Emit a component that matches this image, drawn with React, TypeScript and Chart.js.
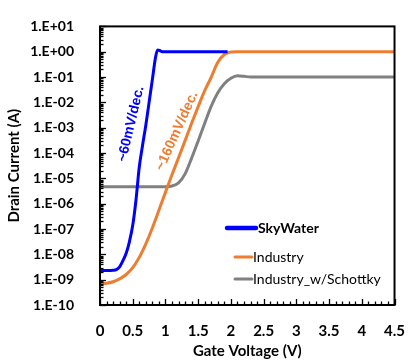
import React, { useEffect, useRef } from "react";
import { Chart, registerables } from "chart.js";

Chart.register(...registerables);

// Transfer curves: gate voltage (V) vs drain current (A)
const skyWaterVg = [0, 0.1, 0.2, 0.25, 0.3, 0.35, 0.4, 0.45, 0.5, 0.55, 0.6, 0.65, 0.7, 0.75, 0.8, 0.85, 0.88, 0.91, 0.95, 1.0, 1.5, 1.95];
const skyWaterId = [2.3e-9, 2.3e-9, 2.35e-9, 2.5e-9, 3.2e-9, 5.6e-9, 1.1e-8, 3.2e-8, 1.4e-7, 1.4e-6, 2.8e-5, 2.0e-4, 1.26e-3, 1.0e-2, 7.9e-2, 0.63, 1.17, 1.12, 1.0, 1.0, 1.0, 1.0];

const industryVg = [0, 0.1, 0.2, 0.3, 0.4, 0.5, 0.6, 0.7, 0.8, 0.9, 1.0, 1.1, 1.2, 1.3, 1.4, 1.5, 1.6, 1.7, 1.8, 1.9, 2.0, 2.1, 4.5];
const industryId = [6.9e-10, 7.2e-10, 8.3e-10, 1.07e-9, 1.6e-9, 3.0e-9, 7.6e-9, 2.6e-8, 1.1e-7, 5.5e-7, 2.8e-6, 1.4e-5, 6.5e-5, 3.1e-4, 1.5e-3, 6.8e-3, 2.9e-2, 0.1, 0.38, 0.78, 0.98, 1.0, 1.0];

const schottkyVg = [0, 0.5, 1.0, 1.1, 1.2, 1.3, 1.4, 1.5, 1.6, 1.7, 1.8, 1.9, 2.0, 2.1, 2.2, 2.3, 4.5];
const schottkyId = [4.7e-6, 4.7e-6, 4.7e-6, 5.0e-6, 6.6e-6, 1.5e-5, 6.3e-5, 3.0e-4, 1.5e-3, 7.1e-3, 2.4e-2, 5.4e-2, 8.9e-2, 0.112, 0.107, 0.1, 0.1];

const xTickLabels = ["0", "0.5", "1", "1.5", "2", "2.5", "3", "3.5", "4", "4.5"];
const yTickValues = [1e-10, 1e-9, 1e-8, 1e-7, 1e-6, 1e-5, 1e-4, 1e-3, 1e-2, 1e-1, 1, 10];
const yTickLabels = ["1.E-10", "1.E-09", "1.E-08", "1.E-07", "1.E-06", "1.E-05", "1.E-04", "1.E-03", "1.E-02", "1.E-01", "1.E+00", "1.E+01"];

const seriesNames = ["SkyWater", "Industry", "Industry_w/Schottky"];
const seriesColors = ["#0000FF", "#ED7D31", "#808080"];
const slopeNotes = ["~60mV/dec.", "~160mV/dec."];

const toPoints = (xs: number[], ys: number[]) => xs.map((x, i) => ({ x, y: ys[i] }));

// Boxed frame with inward major/minor ticks, slope notes and a hand-placed legend
const framePlugin = {
  id: "frameDecor",
  afterDatasetsDraw(chart: any) {
    const { ctx, chartArea: a, scales } = chart;
    const xs = scales.x;
    const ys = scales.y;
    ctx.save();
    ctx.strokeStyle = "#000";
    ctx.lineWidth = 1.3;
    // y ticks (decades + 2..9 minors)
    for (let d = -10; d <= 1; d++) {
      for (let k = 1; k <= 9; k++) {
        const v = k * Math.pow(10, d);
        if (v > 10.0001) break;
        const py = Math.round(ys.getPixelForValue(v)) + 0.5;
        const len = k === 1 ? 6 : 3.5;
        ctx.beginPath();
        ctx.moveTo(a.left, py);
        ctx.lineTo(a.left + len, py);
        ctx.stroke();
      }
    }
    // x ticks every 0.1 V
    for (let i = 0; i <= 45; i++) {
      const px = Math.round(xs.getPixelForValue(i / 10)) + 0.5;
      const len = i % 5 === 0 ? 6 : 3.5;
      ctx.beginPath();
      ctx.moveTo(px, a.bottom);
      ctx.lineTo(px, a.bottom - len);
      ctx.stroke();
    }
    ctx.lineWidth = 2;
    ctx.strokeRect(a.left, a.top, a.right - a.left, a.bottom - a.top);

    // slope annotations
    ctx.font = "bold 14px 'Liberation Sans', Arial, sans-serif";
    ctx.textAlign = "center";
    ctx.textBaseline = "middle";
    const notes = [
      { text: slopeNotes[0], color: seriesColors[0], x: 131, y: 124, angle: -76.8 },
      { text: slopeNotes[1], color: seriesColors[1], x: 177, y: 131, angle: -65.9 },
    ];
    for (const n of notes) {
      ctx.save();
      ctx.translate(n.x, n.y);
      ctx.rotate((n.angle * Math.PI) / 180);
      ctx.fillStyle = n.color;
      ctx.fillText(n.text, 0, 0);
      ctx.restore();
    }

    // legend
    const items = [
      { y: 228, x0: 227, x1: 256, w: 4.5, font: "bold 14px Lato, sans-serif", tx: 258 },
      { y: 257, x0: 235, x1: 252, w: 3, font: "14px Lato, sans-serif", tx: 253 },
      { y: 279, x0: 235, x1: 252, w: 3, font: "14px Lato, sans-serif", tx: 253 },
    ];
    items.forEach((it, i) => {
      ctx.strokeStyle = seriesColors[i];
      ctx.lineWidth = it.w;
      ctx.lineCap = "round";
      ctx.beginPath();
      ctx.moveTo(it.x0, it.y);
      ctx.lineTo(it.x1, it.y);
      ctx.stroke();
      ctx.fillStyle = "#000";
      ctx.font = it.font;
      ctx.textAlign = "left";
      ctx.textBaseline = "middle";
      ctx.fillText(seriesNames[i], it.tx, it.y);
    });
    ctx.restore();
  },
};

export default function App() {
  const canvasRef = useRef<HTMLCanvasElement | null>(null);

  useEffect(() => {
    if (!canvasRef.current) return;
    const lineDefaults = {
      borderWidth: 3,
      pointRadius: 0,
      fill: false,
      cubicInterpolationMode: "monotone" as const,
    };
    const chart = new Chart(canvasRef.current, {
      type: "line",
      data: {
        datasets: [
          { ...lineDefaults, label: seriesNames[0], data: toPoints(skyWaterVg, skyWaterId), borderColor: seriesColors[0] },
          { ...lineDefaults, label: seriesNames[1], data: toPoints(industryVg, industryId), borderColor: seriesColors[1] },
          { ...lineDefaults, label: seriesNames[2], data: toPoints(schottkyVg, schottkyId), borderColor: seriesColors[2] },
        ],
      },
      options: {
        animation: false,
        responsive: false,
        devicePixelRatio: 1,
        layout: { padding: { top: 17, right: 12, left: 0, bottom: 0 } },
        plugins: { legend: { display: false }, tooltip: { enabled: false } },
        scales: {
          x: {
            type: "linear",
            position: "bottom",
            min: 0,
            max: 4.5,
            grid: { display: false },
            border: { display: false },
            ticks: {
              stepSize: 0.5,
              color: "#000",
              padding: 9,
              font: { family: "Lato, sans-serif", size: 15, weight: "bold" },
              callback: (_v: any, i: number) => xTickLabels[i],
            },
            title: {
              display: true,
              text: "Gate Voltage (V)",
              color: "#000",
              padding: { top: 0, bottom: 0 },
              font: { family: "Lato, sans-serif", size: 15, weight: "bold" },
            },
            afterFit: (s: any) => {
              s.height = 55;
            },
          },
          y: {
            type: "logarithmic",
            min: 1e-10,
            max: 10,
            grid: { display: false },
            border: { display: false },
            afterBuildTicks: (s: any) => {
              s.ticks = yTickValues.map((value) => ({ value }));
            },
            ticks: {
              color: "#000",
              padding: 18,
              autoSkip: false,
              font: { family: "Lato, sans-serif", size: 14, weight: "bold" },
              callback: (_v: any, i: number) => yTickLabels[i],
            },
            title: {
              display: true,
              text: "Drain Current (A)",
              color: "#000",
              padding: { top: 5, bottom: 0 },
              font: { family: "Lato, sans-serif", size: 15, weight: "bold" },
            },
            afterFit: (s: any) => {
              s.width = 100;
            },
          },
        },
      },
      plugins: [framePlugin],
    });
    return () => chart.destroy();
  }, []);

  return (
    <div style={{ position: "fixed", left: 0, top: 0, width: 414, height: 360, background: "#fff" }}>
      <canvas ref={canvasRef} width={414} height={360} style={{ width: 414, height: 360, display: "block" }} />
    </div>
  );
}
